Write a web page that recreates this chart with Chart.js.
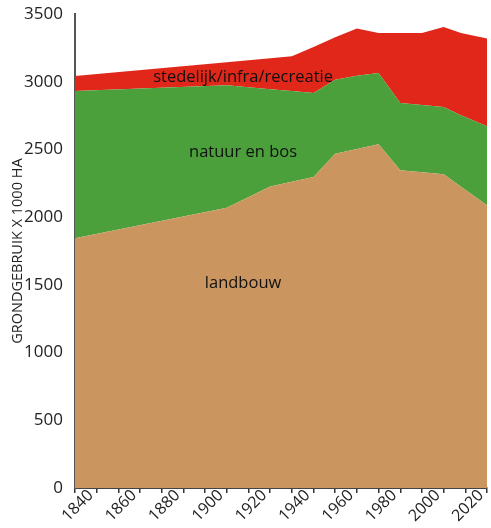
<!DOCTYPE html>
<html>
<head>
<meta charset="utf-8">
<script src="https://cdn.jsdelivr.net/npm/chart.js"></script>
<style>
  html, body { margin: 0; padding: 0; background: #fff; }
  #wrap { width: 491px; height: 528px; }
</style>
</head>
<body>
<div id="wrap"><canvas id="landuse"></canvas></div>
<script>
// years where the outline changes direction
var years = [1830, 1900, 1920, 1930, 1940, 1950, 1960, 1970, 1980, 1990, 2000, 2008, 2020];
// land use x 1000 ha
var landbouw  = [1845, 2070, 2228, 2262, 2297, 2470, 2505, 2540, 2347, 2332, 2317, 2225, 2088];
var natuur    = [1088,  905,  718,  670,  621,  545,  540,  525,  497,  498,  498,  528,  584];
var stedelijk = [ 111,  170,  229,  257,  340,  315,  349,  296,  517,  531,  591,  608,  648];
var yTicks = [0, 500, 1000, 1500, 2000, 2500, 3000, 3500];
var xLabelYears = [1840, 1860, 1880, 1900, 1920, 1940, 1960, 1980, 2000, 2020];

// name written inside each band, anchored at (year, value)
var areaLabels = [
  { text: 'stedelijk/infra/recreatie', year: 1907.5, value: 3034 },
  { text: 'natuur en bos', year: 1907.5, value: 2480 },
  { text: 'landbouw', year: 1907.5, value: 1511 }
];

function pts(arr) {
  return years.map(function (y, i) { return { x: y, y: arr[i] }; });
}

var bandLabels = {
  id: 'bandLabels',
  afterDatasetsDraw: function (chart) {
    var ctx = chart.ctx;
    var sx = chart.scales.x, sy = chart.scales.y;
    ctx.save();
    ctx.font = '16.5px "Open Sans"';
    ctx.fillStyle = '#111';
    ctx.textAlign = 'center';
    ctx.textBaseline = 'middle';
    areaLabels.forEach(function (l) {
      ctx.fillText(l.text, sx.getPixelForValue(l.year), sy.getPixelForValue(l.value));
    });
    ctx.restore();
  }
};

var ds = function (label, arr, color, fill) {
  return {
    label: label,
    data: pts(arr),
    backgroundColor: color,
    borderWidth: 0,
    pointRadius: 0,
    tension: 0,
    fill: fill
  };
};

new Chart(document.getElementById('landuse'), {
  type: 'line',
  data: {
    datasets: [
      ds('landbouw', landbouw, '#CB9560', 'origin'),
      ds('natuur en bos', natuur, '#4BA03C', '-1'),
      ds('stedelijk/infra/recreatie', stedelijk, '#E1271A', '-1')
    ]
  },
  options: {
    responsive: true,
    maintainAspectRatio: false,
    animation: false,
    layout: { padding: { top: 14, right: 4, left: 0, bottom: 0 } },
    plugins: { legend: { display: false }, tooltip: { enabled: false } },
    scales: {
      x: {
        type: 'linear',
        min: 1830,
        max: 2020,
        grid: { display: true, drawOnChartArea: false, drawTicks: true, tickLength: 5, color: '#333', lineWidth: 1.5 },
        border: { display: true, color: '#444', width: 2 },
        ticks: {
          stepSize: 10,
          autoSkip: false,
          minRotation: 45,
          maxRotation: 45,
          padding: -7,
          labelOffset: -6,
          color: '#222',
          font: { family: 'Open Sans', size: 16 },
          callback: function (v) { return xLabelYears.indexOf(v) >= 0 ? String(v) : ''; }
        },
        afterFit: function (s) {
          s.height = 40;
          s.paddingLeft = 0;
          s.paddingRight = 0;
        }
      },
      y: {
        stacked: true,
        min: 0,
        max: 3500,
        grid: { display: false },
        border: { display: true, color: '#555', width: 2 },
        ticks: {
          stepSize: 500,
          padding: 4,
          color: '#222',
          font: { family: 'Open Sans', size: 17 },
          callback: function (v) { return yTicks.indexOf(v) >= 0 ? String(v) : ''; }
        },
        title: {
          display: true,
          text: 'GRONDGEBRUIK X 1000 HA',
          color: '#222',
          font: { family: 'Open Sans', size: 14.5 },
          padding: { top: 9, bottom: 0 }
        },
        afterFit: function (s) { s.width = 75; }
      }
    }
  },
  plugins: [bandLabels]
});
</script>
</body>
</html>
